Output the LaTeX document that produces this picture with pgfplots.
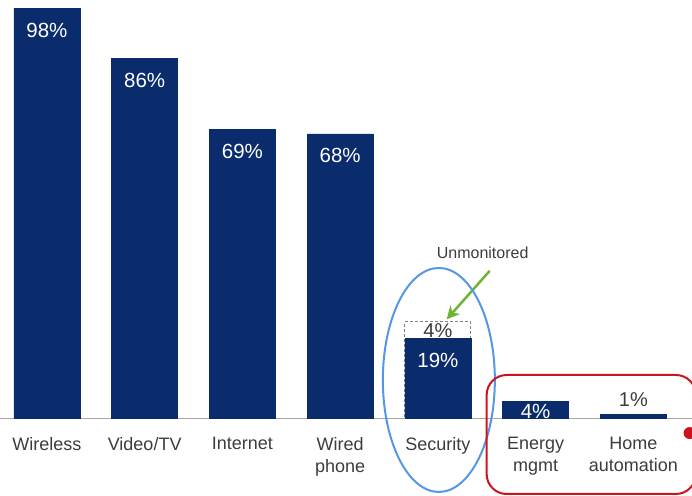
\documentclass[border=0pt]{standalone}
\usepackage{fontspec}
\setmainfont{Liberation Sans}
\usepackage{pgfplots}
\usepackage{pgfplotstable}
\usetikzlibrary{arrows.meta}
\pgfplotsset{compat=1.18}
\definecolor{navy}{RGB}{11,44,108}
\definecolor{txt}{RGB}{60,60,60}
\definecolor{ellblue}{RGB}{85,150,230}
\definecolor{boxred}{RGB}{205,20,30}
\definecolor{arrgreen}{RGB}{110,180,50}
\pgfplotstableread{
x y off
0 98 -22
1 86 -22
2 69 -22
3 68 -22
4 19 -22
5 4 -10
}\maindata
\begin{document}
\begin{tikzpicture}
\begin{axis}[
  scale only axis, width=692pt, height=418pt,
  at={(0,0)}, anchor=south west,
  xmin=-0.48, xmax=6.6, ymin=0, ymax=100,
  axis x line=bottom, axis y line=none,
  x axis line style={-, draw=gray!70, line width=1pt},
  xtick={0,...,6}, major tick length=0pt,
  xticklabels={Wireless, Video/TV, Internet, {Wired\\phone}, Security, {Energy\\mgmt}, {Home\\automation}},
  xticklabel style={align=center, text=txt, font=\fontsize{18}{22}\selectfont, yshift=-16pt},
  /pgf/number format/assume math mode=true,
  clip=false,
]
\coordinate (bl) at (rel axis cs:0,0);
\coordinate (tr) at (rel axis cs:1,1);
% dashed unmonitored part
\addplot[ybar, bar width=66pt, bar shift=0pt, fill=white, draw=gray, densely dashed, line width=0.8pt,
  nodes near coords={\pgfmathprintnumber{4}\%},
  every node near coord/.append style={anchor=center, yshift=-9pt, text=txt, font=\fontsize{20}{22}\selectfont}]
  coordinates {(4,23)};
% main bars
\addplot[ybar, bar width=66pt, bar shift=0pt, fill=navy, draw=navy,
  visualization depends on={\thisrow{off} \as \off},
  nodes near coords={\pgfmathprintnumber{\pgfplotspointmeta}\%},
  every node near coord/.append style={anchor=center, yshift=\off pt, text=white, font=\fontsize{20.5}{22}\selectfont}]
  table[x=x, y=y] {\maindata};
% home automation
\addplot[ybar, bar width=66pt, bar shift=0pt, fill=navy, draw=navy,
  nodes near coords={\pgfmathprintnumber{\pgfplotspointmeta}\%},
  every node near coord/.append style={anchor=center, yshift=14pt, text=txt, font=\fontsize{20}{22}\selectfont}]
  coordinates {(6,1)};
% annotations
\node[text=txt, font=\fontsize{16}{18}\selectfont] at (axis cs:4.458,39.5) {Unmonitored};
\draw[arrgreen, line width=2.5pt, -{Stealth[length=13pt,width=13pt]}] (axis cs:4.53,35.2) -- (axis cs:4.09,23.6);
\draw[ellblue, line width=2pt] (axis cs:4.01,9.1) ellipse [x radius=56pt, y radius=112pt];
\draw[boxred, line width=2pt, rounded corners=20pt] (axis cs:4.499,10.29) rectangle (axis cs:6.64,-18.18);
\fill[boxred] (axis cs:6.575,-3.6) circle [radius=6pt];
\end{axis}
\pgfresetboundingbox
\path[use as bounding box] (bl) ++(0,-78pt) rectangle (tr);
\end{tikzpicture}
\end{document}
